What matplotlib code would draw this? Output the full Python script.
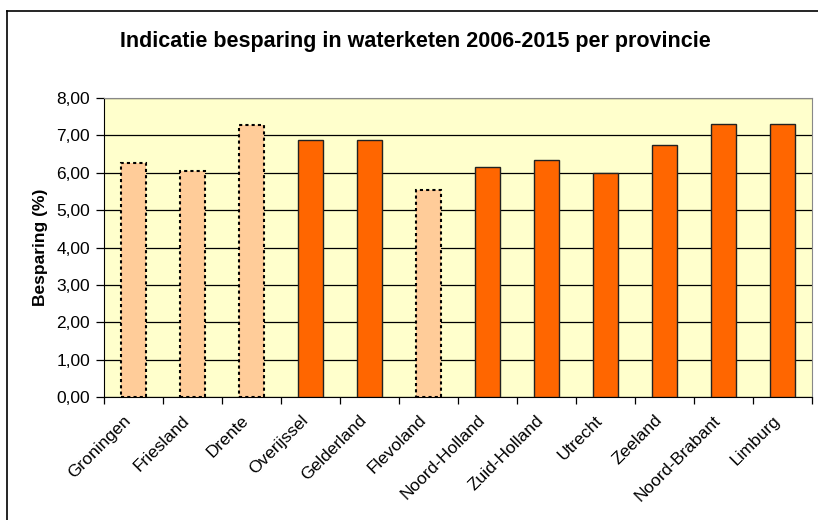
import numpy as np
import matplotlib
matplotlib.use("Agg")
import matplotlib.pyplot as plt
import matplotlib.transforms as mtransforms
from matplotlib.lines import Line2D

plt.rcParams['font.family'] = ['Liberation Sans', 'DejaVu Sans']

provinces = ["Groningen", "Friesland", "Drente", "Overijssel", "Gelderland", "Flevoland",
             "Noord-Holland", "Zuid-Holland", "Utrecht", "Zeeland", "Noord-Brabant", "Limburg"]
savings = [6.26, 6.05, 7.27, 6.88, 6.88, 5.54, 6.15, 6.33, 5.98, 6.73, 7.31, 7.31]
estimated = [True, True, True, False, False, True, False, False, False, False, False, False]

fig = plt.figure(figsize=(8.18, 5.2), dpi=100)
ax = fig.add_axes([104/818, 1-397/520, 708/818, 299/520])
ax.set_facecolor("#FFFFCC")

x = np.arange(len(provinces))
for xi, v, est in zip(x, savings, estimated):
    if est:
        ax.bar(xi, v, width=0.43, color="#FFCC99", edgecolor="black",
               linestyle=(0, (1.5, 1.5)), linewidth=1.5, zorder=3)
    else:
        ax.bar(xi, v, width=0.43, color="#FF6600", edgecolor="#222222",
               linewidth=1.0, zorder=3)

ax.set_xlim(-0.5, len(provinces) - 0.5)
ax.set_ylim(0, 8)
ax.set_yticks(np.arange(0, 9, 1))
ax.set_yticklabels([f"{v:.2f}".replace(".", ",") for v in range(0, 9)], fontsize=12.5)
ax.yaxis.grid(True, color="black", linewidth=0.9, zorder=1)
ax.set_axisbelow(True)

ax.set_xticks(x)
ax.set_xticklabels(provinces, rotation=45, ha="right", va="center",
                   rotation_mode="anchor", fontsize=12.5)
ax.tick_params(axis="x", length=0, pad=15)
shift = mtransforms.ScaledTranslation(-5/100, 0, fig.dpi_scale_trans)
for lbl in ax.get_xticklabels():
    lbl.set_transform(lbl.get_transform() + shift)
ax.set_xticks(np.arange(-0.5, len(provinces), 1), minor=True)
ax.tick_params(axis="x", which="minor", length=5, width=0.9, direction="out")
ax.tick_params(axis="y", length=6, width=0.9, direction="out", pad=4)

for s in ["top", "right"]:
    ax.spines[s].set_color("#888888")
ax.spines["left"].set_color("black")
ax.spines["bottom"].set_color("black")

ax.set_ylabel("Besparing (%)", fontsize=12.5, fontweight="bold", labelpad=6)

fig.text(415/818, 1-42/520, "Indicatie besparing in waterketen 2006-2015 per provincie",
         ha="center", va="center", fontsize=15.5, fontweight="bold")

# outer chart border
fig.add_artist(Line2D([7/818, 1.0], [1-11/520, 1-11/520], color="black", linewidth=1.2,
                      transform=fig.transFigure))
fig.add_artist(Line2D([7/818, 7/818], [0, 1-11/520], color="black", linewidth=1.2,
                      transform=fig.transFigure))

fig.savefig("out.png", dpi=100)
